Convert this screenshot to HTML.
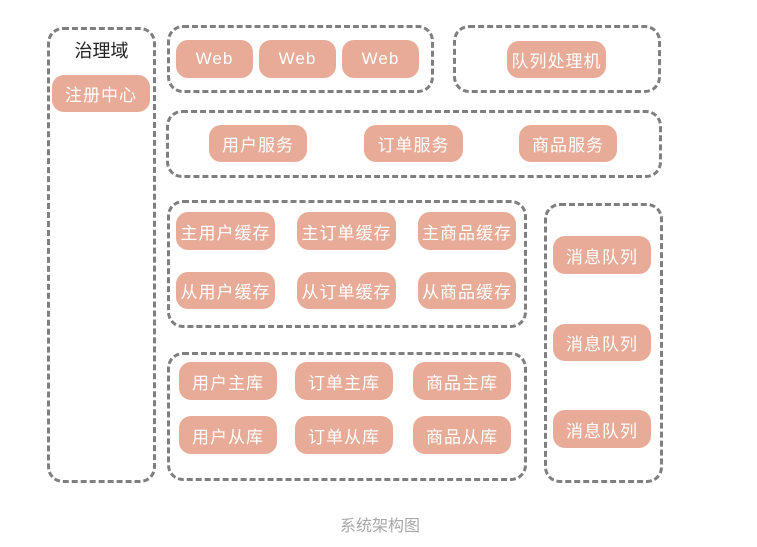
<!DOCTYPE html><html><head><style>
body{margin:0;width:757px;height:547px;background:#fff;position:relative;overflow:hidden;font-family:"Liberation Sans","Noto Sans CJK SC",sans-serif}
.c{position:absolute;border:3px dashed #7f7f7f;border-radius:16px;box-sizing:border-box}
.p{position:absolute;background:#e8ab98;color:#fff;border-radius:12px;display:flex;align-items:center;justify-content:center;font-size:17px;letter-spacing:1px}
.t{position:absolute;text-align:center}
</style></head><body>
<div class="c" style="left:47px;top:27px;width:109px;height:456px"></div>
<div class="t" style="left:47px;top:37px;width:109px;font-size:18px;color:#222">治理域</div>
<div class="p" style="left:52px;top:75px;width:98px;height:37px">注册中心</div>

<div class="c" style="left:167px;top:25px;width:267px;height:68px"></div>
<div class="p" style="left:176px;top:40px;width:77px;height:38px">Web</div>
<div class="p" style="left:259px;top:40px;width:77px;height:38px">Web</div>
<div class="p" style="left:342px;top:40px;width:77px;height:38px">Web</div>

<div class="c" style="left:453px;top:25px;width:208px;height:68px"></div>
<div class="p" style="left:507px;top:41px;width:99px;height:37px">队列处理机</div>

<div class="c" style="left:166px;top:110px;width:496px;height:68px"></div>
<div class="p" style="left:209px;top:125px;width:98px;height:37px">用户服务</div>
<div class="p" style="left:364px;top:125px;width:99px;height:37px">订单服务</div>
<div class="p" style="left:519px;top:125px;width:98px;height:37px">商品服务</div>

<div class="c" style="left:167px;top:200px;width:360px;height:128px"></div>
<div class="p" style="left:176px;top:212px;width:99px;height:38px">主用户缓存</div>
<div class="p" style="left:297px;top:212px;width:99px;height:38px">主订单缓存</div>
<div class="p" style="left:418px;top:212px;width:98px;height:38px">主商品缓存</div>
<div class="p" style="left:176px;top:272px;width:99px;height:37px">从用户缓存</div>
<div class="p" style="left:297px;top:272px;width:99px;height:37px">从订单缓存</div>
<div class="p" style="left:418px;top:272px;width:98px;height:37px">从商品缓存</div>

<div class="c" style="left:544px;top:203px;width:119px;height:280px"></div>
<div class="p" style="left:553px;top:236px;width:98px;height:38px">消息队列</div>
<div class="p" style="left:553px;top:324px;width:98px;height:37px">消息队列</div>
<div class="p" style="left:553px;top:410px;width:98px;height:38px">消息队列</div>

<div class="c" style="left:167px;top:352px;width:360px;height:129px"></div>
<div class="p" style="left:179px;top:362px;width:98px;height:38px">用户主库</div>
<div class="p" style="left:295px;top:362px;width:98px;height:38px">订单主库</div>
<div class="p" style="left:413px;top:362px;width:98px;height:38px">商品主库</div>
<div class="p" style="left:179px;top:416px;width:98px;height:38px">用户从库</div>
<div class="p" style="left:295px;top:416px;width:98px;height:38px">订单从库</div>
<div class="p" style="left:413px;top:416px;width:98px;height:38px">商品从库</div>

<div class="t" style="left:280px;top:512px;width:200px;font-size:16px;color:#a8a8a8">系统架构图</div>
</body></html>
